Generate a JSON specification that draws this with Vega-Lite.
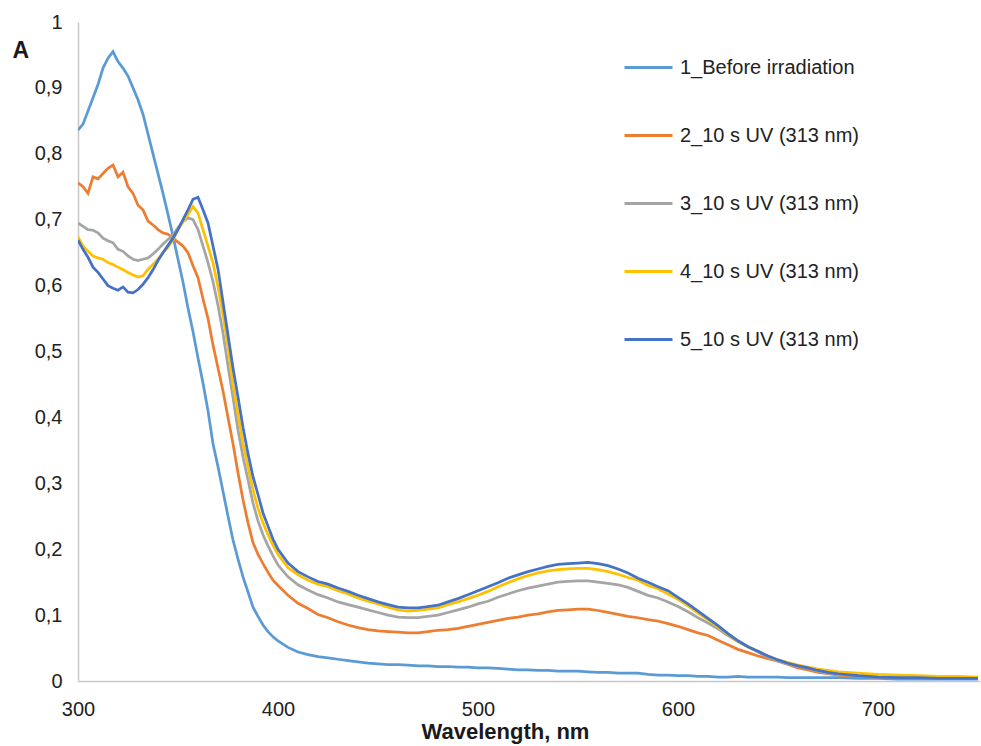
{
  "$schema": "https://vega.github.io/schema/vega-lite/v6.json",
  "width": 902,
  "height": 659,
  "autosize": {"type": "none"},
  "padding": {"left": 78, "top": 22, "right": 1, "bottom": 65},
  "background": "white",
  "config": {
    "view": {"stroke": null},
    "font": "Liberation Sans"
  },
  "data": {
    "values": [
      {"w":300,"s1":0.836,"s2":0.756,"s3":0.695,"s4":0.674,"s5":0.669},
      {"w":302.5,"s1":0.845,"s2":0.750,"s3":0.690,"s4":0.660,"s5":0.655},
      {"w":305,"s1":0.865,"s2":0.740,"s3":0.685,"s4":0.652,"s5":0.643},
      {"w":307.5,"s1":0.885,"s2":0.765,"s3":0.684,"s4":0.645,"s5":0.628},
      {"w":310,"s1":0.905,"s2":0.762,"s3":0.680,"s4":0.642,"s5":0.620},
      {"w":312.5,"s1":0.930,"s2":0.770,"s3":0.672,"s4":0.640,"s5":0.610},
      {"w":315,"s1":0.945,"s2":0.778,"s3":0.668,"s4":0.635,"s5":0.600},
      {"w":317.5,"s1":0.955,"s2":0.783,"s3":0.665,"s4":0.632,"s5":0.596},
      {"w":320,"s1":0.940,"s2":0.765,"s3":0.655,"s4":0.628,"s5":0.593},
      {"w":322.5,"s1":0.930,"s2":0.772,"s3":0.652,"s4":0.624,"s5":0.598},
      {"w":325,"s1":0.918,"s2":0.750,"s3":0.645,"s4":0.620,"s5":0.590},
      {"w":327.5,"s1":0.900,"s2":0.740,"s3":0.640,"s4":0.616,"s5":0.589},
      {"w":330,"s1":0.882,"s2":0.722,"s3":0.638,"s4":0.613,"s5":0.594},
      {"w":332.5,"s1":0.860,"s2":0.715,"s3":0.640,"s4":0.615,"s5":0.602},
      {"w":335,"s1":0.830,"s2":0.698,"s3":0.642,"s4":0.625,"s5":0.612},
      {"w":337.5,"s1":0.800,"s2":0.692,"s3":0.648,"s4":0.632,"s5":0.624},
      {"w":340,"s1":0.770,"s2":0.685,"s3":0.655,"s4":0.640,"s5":0.638},
      {"w":342.5,"s1":0.740,"s2":0.680,"s3":0.663,"s4":0.650,"s5":0.650},
      {"w":345,"s1":0.708,"s2":0.678,"s3":0.670,"s4":0.658,"s5":0.661},
      {"w":347.5,"s1":0.675,"s2":0.672,"s3":0.676,"s4":0.670,"s5":0.672},
      {"w":350,"s1":0.640,"s2":0.666,"s3":0.688,"s4":0.685,"s5":0.685},
      {"w":352.5,"s1":0.605,"s2":0.660,"s3":0.697,"s4":0.697,"s5":0.700},
      {"w":355,"s1":0.566,"s2":0.650,"s3":0.703,"s4":0.708,"s5":0.715},
      {"w":357.5,"s1":0.530,"s2":0.630,"s3":0.700,"s4":0.720,"s5":0.731},
      {"w":360,"s1":0.490,"s2":0.612,"s3":0.685,"s4":0.710,"s5":0.734},
      {"w":362.5,"s1":0.452,"s2":0.580,"s3":0.660,"s4":0.685,"s5":0.715},
      {"w":365,"s1":0.410,"s2":0.550,"s3":0.635,"s4":0.660,"s5":0.695},
      {"w":367.5,"s1":0.360,"s2":0.510,"s3":0.606,"s4":0.634,"s5":0.660},
      {"w":370,"s1":0.325,"s2":0.475,"s3":0.570,"s4":0.598,"s5":0.625},
      {"w":372.5,"s1":0.288,"s2":0.440,"s3":0.528,"s4":0.556,"s5":0.575},
      {"w":375,"s1":0.250,"s2":0.400,"s3":0.478,"s4":0.507,"s5":0.525},
      {"w":377.5,"s1":0.214,"s2":0.360,"s3":0.430,"s4":0.450,"s5":0.475},
      {"w":380,"s1":0.185,"s2":0.316,"s3":0.381,"s4":0.405,"s5":0.431},
      {"w":382.5,"s1":0.158,"s2":0.275,"s3":0.340,"s4":0.360,"s5":0.385},
      {"w":385,"s1":0.135,"s2":0.240,"s3":0.305,"s4":0.325,"s5":0.345},
      {"w":387.5,"s1":0.112,"s2":0.210,"s3":0.270,"s4":0.290,"s5":0.310},
      {"w":390,"s1":0.098,"s2":0.192,"s3":0.243,"s4":0.262,"s5":0.283},
      {"w":392.5,"s1":0.085,"s2":0.178,"s3":0.222,"s4":0.240,"s5":0.255},
      {"w":395,"s1":0.075,"s2":0.165,"s3":0.205,"s4":0.222,"s5":0.235},
      {"w":397.5,"s1":0.067,"s2":0.153,"s3":0.190,"s4":0.206,"s5":0.215},
      {"w":400,"s1":0.061,"s2":0.145,"s3":0.176,"s4":0.192,"s5":0.200},
      {"w":405,"s1":0.051,"s2":0.130,"s3":0.158,"s4":0.172,"s5":0.179},
      {"w":410,"s1":0.044,"s2":0.118,"s3":0.146,"s4":0.161,"s5":0.166},
      {"w":415,"s1":0.040,"s2":0.110,"s3":0.138,"s4":0.153,"s5":0.158},
      {"w":420,"s1":0.037,"s2":0.101,"s3":0.131,"s4":0.147,"s5":0.151},
      {"w":425,"s1":0.035,"s2":0.096,"s3":0.126,"s4":0.143,"s5":0.147},
      {"w":430,"s1":0.033,"s2":0.090,"s3":0.120,"s4":0.137,"s5":0.141},
      {"w":435,"s1":0.031,"s2":0.085,"s3":0.116,"s4":0.132,"s5":0.136},
      {"w":440,"s1":0.029,"s2":0.081,"s3":0.112,"s4":0.126,"s5":0.130},
      {"w":445,"s1":0.027,"s2":0.078,"s3":0.108,"s4":0.121,"s5":0.125},
      {"w":450,"s1":0.026,"s2":0.076,"s3":0.104,"s4":0.117,"s5":0.120},
      {"w":455,"s1":0.025,"s2":0.075,"s3":0.100,"s4":0.112,"s5":0.116},
      {"w":460,"s1":0.025,"s2":0.074,"s3":0.097,"s4":0.108,"s5":0.112},
      {"w":465,"s1":0.024,"s2":0.073,"s3":0.096,"s4":0.106,"s5":0.111},
      {"w":470,"s1":0.023,"s2":0.073,"s3":0.096,"s4":0.107,"s5":0.111},
      {"w":475,"s1":0.023,"s2":0.075,"s3":0.098,"s4":0.109,"s5":0.113},
      {"w":480,"s1":0.022,"s2":0.077,"s3":0.100,"s4":0.111,"s5":0.115},
      {"w":485,"s1":0.022,"s2":0.078,"s3":0.104,"s4":0.116,"s5":0.120},
      {"w":490,"s1":0.021,"s2":0.080,"s3":0.108,"s4":0.120,"s5":0.125},
      {"w":495,"s1":0.021,"s2":0.083,"s3":0.112,"s4":0.125,"s5":0.131},
      {"w":500,"s1":0.020,"s2":0.086,"s3":0.117,"s4":0.130,"s5":0.137},
      {"w":505,"s1":0.020,"s2":0.089,"s3":0.121,"s4":0.136,"s5":0.143},
      {"w":510,"s1":0.019,"s2":0.092,"s3":0.127,"s4":0.143,"s5":0.149},
      {"w":515,"s1":0.018,"s2":0.095,"s3":0.132,"s4":0.149,"s5":0.156},
      {"w":520,"s1":0.017,"s2":0.097,"s3":0.137,"s4":0.155,"s5":0.161},
      {"w":525,"s1":0.017,"s2":0.100,"s3":0.141,"s4":0.160,"s5":0.166},
      {"w":530,"s1":0.016,"s2":0.102,"s3":0.144,"s4":0.164,"s5":0.170},
      {"w":535,"s1":0.016,"s2":0.105,"s3":0.147,"s4":0.167,"s5":0.174},
      {"w":540,"s1":0.015,"s2":0.107,"s3":0.150,"s4":0.169,"s5":0.177},
      {"w":545,"s1":0.015,"s2":0.108,"s3":0.151,"s4":0.170,"s5":0.178},
      {"w":550,"s1":0.015,"s2":0.109,"s3":0.152,"s4":0.171,"s5":0.179},
      {"w":555,"s1":0.014,"s2":0.109,"s3":0.152,"s4":0.171,"s5":0.180},
      {"w":560,"s1":0.013,"s2":0.107,"s3":0.150,"s4":0.169,"s5":0.178},
      {"w":565,"s1":0.013,"s2":0.104,"s3":0.148,"s4":0.166,"s5":0.175},
      {"w":570,"s1":0.012,"s2":0.101,"s3":0.146,"s4":0.162,"s5":0.170},
      {"w":575,"s1":0.012,"s2":0.098,"s3":0.142,"s4":0.157,"s5":0.164},
      {"w":580,"s1":0.012,"s2":0.096,"s3":0.136,"s4":0.153,"s5":0.156},
      {"w":585,"s1":0.010,"s2":0.093,"s3":0.130,"s4":0.145,"s5":0.150},
      {"w":590,"s1":0.009,"s2":0.091,"s3":0.126,"s4":0.140,"s5":0.143},
      {"w":595,"s1":0.009,"s2":0.087,"s3":0.120,"s4":0.132,"s5":0.137},
      {"w":600,"s1":0.008,"s2":0.083,"s3":0.113,"s4":0.124,"s5":0.127},
      {"w":605,"s1":0.008,"s2":0.078,"s3":0.105,"s4":0.114,"s5":0.117},
      {"w":610,"s1":0.007,"s2":0.073,"s3":0.096,"s4":0.103,"s5":0.106},
      {"w":615,"s1":0.007,"s2":0.069,"s3":0.088,"s4":0.093,"s5":0.095},
      {"w":620,"s1":0.006,"s2":0.062,"s3":0.079,"s4":0.082,"s5":0.084},
      {"w":625,"s1":0.006,"s2":0.055,"s3":0.069,"s4":0.071,"s5":0.072},
      {"w":630,"s1":0.007,"s2":0.048,"s3":0.060,"s4":0.060,"s5":0.061},
      {"w":635,"s1":0.006,"s2":0.043,"s3":0.052,"s4":0.052,"s5":0.052},
      {"w":640,"s1":0.006,"s2":0.038,"s3":0.044,"s4":0.045,"s5":0.045},
      {"w":645,"s1":0.006,"s2":0.034,"s3":0.036,"s4":0.038,"s5":0.038},
      {"w":650,"s1":0.006,"s2":0.030,"s3":0.030,"s4":0.032,"s5":0.032},
      {"w":655,"s1":0.005,"s2":0.025,"s3":0.026,"s4":0.028,"s5":0.027},
      {"w":660,"s1":0.005,"s2":0.020,"s3":0.022,"s4":0.024,"s5":0.023},
      {"w":665,"s1":0.005,"s2":0.017,"s3":0.019,"s4":0.021,"s5":0.020},
      {"w":670,"s1":0.005,"s2":0.013,"s3":0.015,"s4":0.018,"s5":0.016},
      {"w":675,"s1":0.005,"s2":0.011,"s3":0.012,"s4":0.016,"s5":0.013},
      {"w":680,"s1":0.005,"s2":0.009,"s3":0.010,"s4":0.014,"s5":0.011},
      {"w":690,"s1":0.004,"s2":0.007,"s3":0.008,"s4":0.012,"s5":0.008},
      {"w":700,"s1":0.004,"s2":0.006,"s3":0.006,"s4":0.010,"s5":0.006},
      {"w":710,"s1":0.003,"s2":0.005,"s3":0.005,"s4":0.009,"s5":0.005},
      {"w":720,"s1":0.003,"s2":0.005,"s3":0.005,"s4":0.008,"s5":0.005},
      {"w":730,"s1":0.003,"s2":0.004,"s3":0.004,"s4":0.007,"s5":0.004},
      {"w":740,"s1":0.003,"s2":0.004,"s3":0.004,"s4":0.007,"s5":0.004},
      {"w":750,"s1":0.003,"s2":0.004,"s3":0.004,"s4":0.006,"s5":0.004}
    ]
  },
  "transform": [
    {"fold": ["s1", "s2", "s3", "s4", "s5"], "as": ["s", "a"]}
  ],
  "mark": {"type": "line", "strokeWidth": 2.75, "clip": true, "interpolate": "linear"},
  "encoding": {
    "x": {
      "field": "w",
      "type": "quantitative",
      "scale": {"domain": [300, 751], "nice": false, "zero": false},
      "axis": {
        "values": [300, 400, 500, 600, 700],
        "title": "Wavelength, nm",
        "titleFontSize": 22,
        "titleFontWeight": "bold",
        "titleColor": "#1a1a1a",
        "titleX": 427,
        "titleY": 57,
        "titleAlign": "center",
        "titleBaseline": "alphabetic",
        "labelFontSize": 20,
        "labelColor": "#222222",
        "labelPadding": 18,
        "labelFlush": false,
        "ticks": false,
        "grid": false,
        "domainColor": "#c8c8c8",
        "domainWidth": 1.5
      }
    },
    "y": {
      "field": "a",
      "type": "quantitative",
      "scale": {"domain": [0, 1], "nice": false},
      "axis": {
        "values": [0, 0.1, 0.2, 0.3, 0.4, 0.5, 0.6, 0.7, 0.8, 0.9, 1],
        "format": ".1~f",
        "labelExpr": "replace(datum.label, '.', ',')",
        "title": "A",
        "titleAngle": 0,
        "titleFontSize": 23,
        "titleFontWeight": "bold",
        "titleColor": "#1a1a1a",
        "titleX": -66,
        "titleY": 28,
        "titleAlign": "left",
        "titleBaseline": "middle",
        "labelFontSize": 20,
        "labelColor": "#222222",
        "labelPadding": 16,
        "labelFlush": false,
        "ticks": false,
        "grid": false,
        "domainColor": "#c8c8c8",
        "domainWidth": 1.5
      }
    },
    "color": {
      "field": "s",
      "type": "nominal",
      "scale": {
        "domain": ["s1", "s2", "s3", "s4", "s5"],
        "range": ["#5B9BD5", "#ED7D31", "#A5A5A5", "#FFC000", "#4472C4"]
      },
      "legend": {
        "title": null,
        "orient": "none",
        "legendX": 545,
        "legendY": 20,
        "padding": 0,
        "symbolType": "stroke",
        "symbolSize": 2304,
        "symbolStrokeWidth": 3,
        "labelFontSize": 20,
        "labelColor": "#222222",
        "labelOffset": 6,
        "rowPadding": 32,
        "labelLimit": 400,
        "labelExpr": "datum.label == 's1' ? '1_Before irradiation' : datum.label == 's2' ? '2_10 s UV (313 nm)' : datum.label == 's3' ? '3_10 s UV (313 nm)' : datum.label == 's4' ? '4_10 s UV (313 nm)' : '5_10 s UV (313 nm)'"
      }
    }
  }
}
